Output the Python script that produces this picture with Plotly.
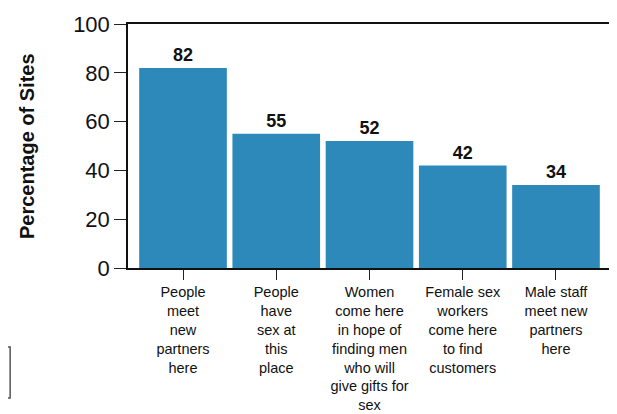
import plotly.graph_objects as go

categories = [
    "People<br>meet<br>new<br>partners<br>here",
    "People<br>have<br>sex at<br>this<br>place",
    "Women<br>come here<br>in hope of<br>finding men<br>who will<br>give gifts for<br>sex",
    "Female sex<br>workers<br>come here<br>to find<br>customers",
    "Male staff<br>meet new<br>partners<br>here",
]
values = [82, 55, 52, 42, 34]
y_ticks = [0, 20, 40, 60, 80, 100]

fig = go.Figure()
fig.add_trace(go.Bar(
    x=list(range(len(categories))),
    y=values,
    width=0.94,
    marker=dict(color="#2e89bb", line=dict(width=0)),
    text=[str(v) for v in values],
    textposition="outside",
    textfont=dict(family="Arial, Liberation Sans", size=18, color="#111111"),
    texttemplate="<b>%{text}</b>",
    cliponaxis=False,
))

fig.update_layout(
    width=617, height=414,
    margin=dict(l=120, r=14, t=16, b=154),
    paper_bgcolor="white", plot_bgcolor="white",
    showlegend=False,
    font=dict(family="Arial, Liberation Sans", color="#111111"),
    xaxis=dict(
        tickmode="array",
        tickvals=list(range(len(categories))),
        ticktext=categories,
        range=[-0.59, 4.59],
        ticks="outside", ticklen=10, tickwidth=1.2, tickcolor="#222",
        showline=True, linecolor="#111", linewidth=1.5, mirror=True,
        showgrid=False, zeroline=False,
        tickfont=dict(size=14.5, family="Arial, Liberation Sans"),
        tickangle=0, automargin=False,
    ),
    yaxis=dict(
        range=[0, 100],
        tickvals=y_ticks,
        ticks="outside", ticklen=12, tickwidth=1.2, tickcolor="#222",
        showline=True, linecolor="#111", linewidth=1.5, mirror=True,
        showgrid=False, zeroline=False,
        tickfont=dict(size=22, family="Arial, Liberation Sans"),
        automargin=False,
    ),
    annotations=[dict(text="<b>Percentage of Sites</b>", xref="paper", yref="paper",
                      x=-0.209, y=0.5, textangle=-90, showarrow=False,
                      font=dict(size=20), xanchor="center", yanchor="middle")],
    shapes=[dict(type="rect", xref="paper", yref="paper",
                 x0=-0.265, x1=-0.244, y0=-0.533, y1=-0.324,
                 line=dict(color="#555", width=1.5), fillcolor="rgba(0,0,0,0)")],
)

fig.write_html("out.html")
